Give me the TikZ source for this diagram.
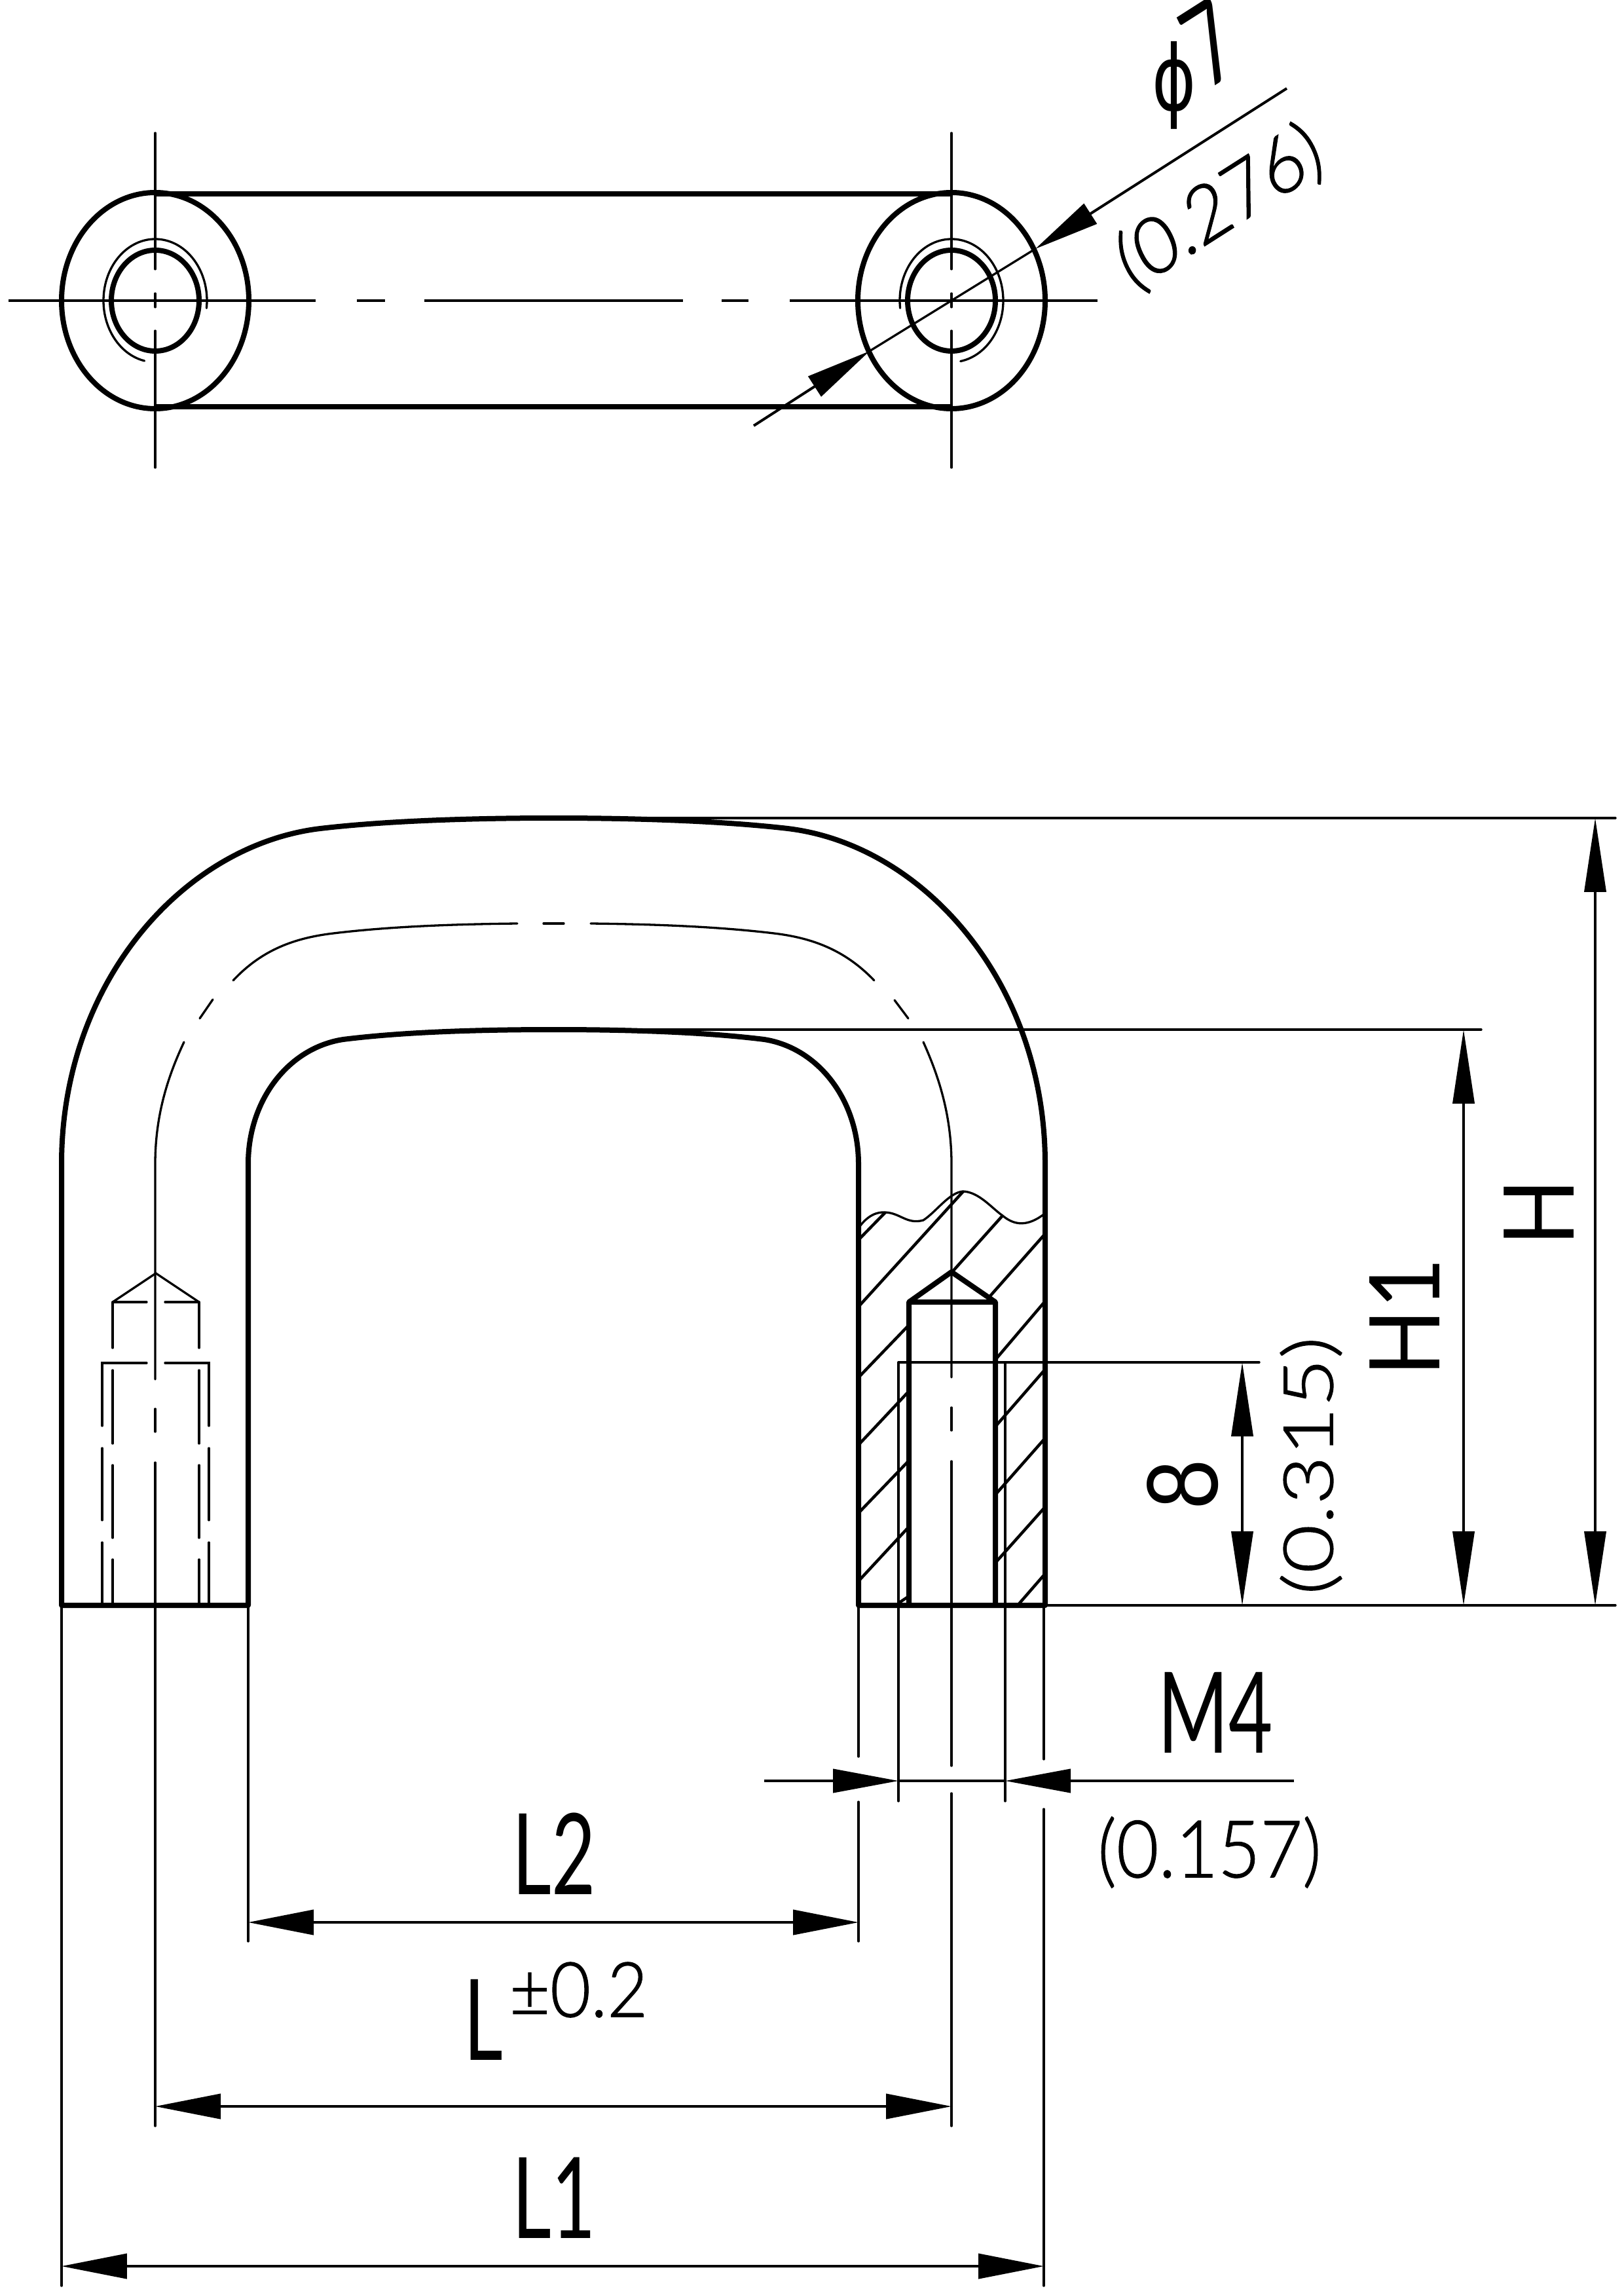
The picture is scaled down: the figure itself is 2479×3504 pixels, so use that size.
\documentclass[tikz,border=0pt]{standalone}
\usepackage{fontspec}
\usepackage{graphicx}
\usetikzlibrary{arrows.meta}
\newfontfamily\dimfont[FakeStretch=.78]{Lato}
\newfontfamily\notefont[FakeStretch=1.06,FakeBold=1.2]{Lato Light}
\newfontfamily\phifont[FakeStretch=.85]{DejaVu Sans}
\tikzset{
  body/.style={line width=.8pt,line join=round},
  fine/.style={line width=.33pt,line cap=round},
  hatchline/.style={line width=.45pt},
  centerline/.style={line width=.35pt},
  hdim/.style={line width=.42pt,{Triangle[length=10pt,width=3.8pt]}-{Triangle[length=10pt,width=3.8pt]}},
  vdim/.style={line width=.38pt,{Triangle[length=11.3pt,width=3.3pt]}-{Triangle[length=11.3pt,width=3.3pt]}},
  dimhead/.style={line width=.4pt,-{Triangle[length=10pt,width=3.6pt]}},
  dimlabel/.style={inner sep=0pt,font=\dimfont\fontsize{14.9}{16}\selectfont},
  dimnote/.style={inner sep=0pt,font=\notefont\fontsize{10.5}{11}\selectfont},
  % the whole drawing is stretched upright, and so are its texts
  flat/.style={cm={1,0,0,1.154,(0,0)},transform shape},
  upright/.style={cm={0,1.154,-1,0,(0,0)},transform shape},
  tilted/.style={cm={.875,.558,-.485,1.01,(0,0)},transform shape},
}
\begin{document}
\begin{tikzpicture}[x=.1pt,y=-.1pt]
  \useasboundingbox (0,0) rectangle (2479,3504);
  % view from above
  \draw[body] (237,459) ellipse [x radius=143,y radius=165];
  \draw[body] (1453,459) ellipse [x radius=143,y radius=165];
  \draw[body] (237,459) ellipse [x radius=67,y radius=77];
  \draw[body] (1453,459) ellipse [x radius=67,y radius=77];
  \draw[body] (237,296) -- (1453,296);
  \draw[body] (237,621) -- (1453,621);
  \draw[fine] (237,459) ++(7:79 and 94) arc [start angle=7,end angle=-258,x radius=79,y radius=94];
  \draw[fine] (1453,459) ++(173:79 and 94) arc [start angle=173,end angle=440,x radius=79,y radius=94];
  \foreach \x in {237,1453} {
    \draw[fine] (\x,203) -- (\x,411);
    \draw[fine] (\x,448) -- (\x,469);
    \draw[fine] (\x,505) -- (\x,714);
  }
  \draw[centerline] (13,459) -- (482,459);
  \draw[centerline] (545,459) -- (588,459);
  \draw[centerline] (648,459) -- (1043,459);
  \draw[centerline] (1102,459) -- (1143,459);
  \draw[centerline] (1206,459) -- (1676,459);
  % diameter
  \coordinate (dialow) at (1151,650);
  \coordinate (dialowtip) at (1328,536);
  \coordinate (diahigh) at (1965,135);
  \coordinate (diahightip) at (1581,380);
  \draw[fine] (dialowtip) -- (diahightip);
  \draw[dimhead] (dialow) -- (dialowtip);
  \draw[dimhead] (diahigh) -- (diahightip);
  \node[dimlabel,tilted] (diameter) at (1813,112) {{\phifont\fontsize{12}{12}\selectfont\rotatebox{-29}{ϕ}}\kern-1.7pt\raisebox{-1.8pt}{7}};
  \node[dimnote,tilted] (diamnote) at (1863,317) {(0.276)};
  % front view
  \draw[body] (94,2451) -- (94,1777) .. controls (94,1500) and (280,1290) .. (489,1265)
    .. controls (600,1252) and (740,1249) .. (846,1249)
    .. controls (950,1249) and (1090,1252) .. (1203,1265)
    .. controls (1410,1290) and (1596,1500) .. (1596,1777) -- (1596,2451) -- (1311,2451)
    -- (1311,1777) .. controls (1311,1680) and (1250,1600) .. (1167,1587)
    .. controls (1070,1575) and (950,1572) .. (846,1572)
    .. controls (740,1572) and (620,1575) .. (524,1587)
    .. controls (440,1600) and (379,1680) .. (379,1777) -- (379,2451) -- cycle;
  % middle line of the bar
  \draw[fine] (237,2106) -- (237,1777) .. controls (237,1700) and (258,1640) .. (281,1591);
  \draw[fine] (305,1555) -- (325,1526);
  \draw[fine] (356,1497) .. controls (400,1450) and (450,1432) .. (509,1425)
    .. controls (600,1414) and (700,1411) .. (790,1410);
  \draw[fine] (830,1410) -- (861,1410);
  \draw[fine] (902,1410) .. controls (990,1411) and (1090,1414) .. (1182,1425)
    .. controls (1240,1432) and (1290,1450) .. (1335,1497);
  \draw[fine] (1366,1527) -- (1387,1555);
  \draw[fine] (1410,1591) .. controls (1432,1640) and (1453,1700) .. (1453,1777) -- (1453,2103);
  \draw[fine] (237,2151) -- (237,2186);
  \draw[fine] (237,2233) -- (237,3246);
  \draw[fine] (1453,2149) -- (1453,2184);
  \draw[fine] (1453,2231) -- (1453,2696);
  \draw[fine] (1453,2738) -- (1453,3246);
  % hidden hole on the left
  \draw[fine] (172,1988) -- (238,1944) -- (304,1988);
  \draw[fine] (172,1988) -- (224,1988);
  \draw[fine] (252,1988) -- (304,1988);
  \foreach \x in {172,304} {
    \draw[fine] (\x,1988) -- (\x,2058);
    \draw[fine] (\x,2092) -- (\x,2204);
    \draw[fine] (\x,2237) -- (\x,2348);
    \draw[fine] (\x,2381) -- (\x,2451);
  }
  \draw[fine] (156,2177) -- (156,2081) -- (224,2081);
  \draw[fine] (252,2081) -- (319,2081) -- (319,2177);
  \foreach \x in {156,319} {
    \draw[fine] (\x,2211) -- (\x,2321);
    \draw[fine] (\x,2355) -- (\x,2451);
  }
  % section on the right
  \draw[fine] (1311,1875) .. controls (1325,1855) and (1340,1850) .. (1352,1851)
    .. controls (1375,1852) and (1385,1870) .. (1410,1863)
    .. controls (1430,1850) and (1450,1820) .. (1471,1819)
    .. controls (1495,1820) and (1515,1845) .. (1531,1856)
    .. controls (1550,1872) and (1570,1872) .. (1594,1854);
  \draw[body] (1388,2451) -- (1388,1988) -- (1453,1942) -- (1520,1988) -- (1520,2451);
  \draw[body] (1388,1988) -- (1520,1988);
  \foreach \a/\b/\c/\d in {1311/1893/1352/1851,1311/1995/1471/1819,1311/2103/1388/2023,
      1454/1942/1531/1856,1311/2206/1388/2124,1510/1981/1594/1886,1311/2310/1388/2230,
      1520/2076/1594/1989,1311/2414/1388/2331,1520/2178/1594/2093,1373/2447/1388/2437,
      1520/2282/1594/2198,1520/2386/1594/2303,1554/2451/1594/2405}
    \draw[hatchline] (\a,\b) -- (\c,\d);
  \draw[fine] (1372,2080) -- (1535,2080);
  \draw[fine] (1372,2080) -- (1372,2750);
  \draw[fine] (1535,2080) -- (1535,2750);
  % extension lines
  \draw[fine] (846,1249) -- (2467,1249);
  \draw[fine] (846,1572) -- (2262,1572);
  \draw[fine] (1535,2080) -- (1923,2080);
  \draw[fine] (1596,2451) -- (2467,2451);
  \draw[fine] (94,2451) -- (94,3490);
  \draw[fine] (379,2451) -- (379,2964);
  \draw[fine] (1311,2451) -- (1311,2682);
  \draw[fine] (1311,2751) -- (1311,2964);
  \draw[fine] (1594,2451) -- (1594,2686);
  \draw[fine] (1594,2762) -- (1594,3490);
  % dimensions
  \draw[vdim] (2436,1249) -- (2436,2451);
  \draw[vdim] (2235,1572) -- (2235,2451);
  \draw[vdim] (1897,2080) -- (1897,2451);
  \draw[hdim] (379,2935) -- (1311,2935);
  \draw[hdim] (237,3216) -- (1453,3216);
  \draw[hdim] (94,3460) -- (1594,3460);
  \draw[fine] (1372,2719) -- (1535,2719);
  \draw[dimhead] (1167,2719) -- (1372,2719);
  \draw[dimhead] (1976,2719) -- (1535,2719);
  \node[dimlabel,upright] (height) at (2350,1851) {H};
  \node[dimlabel,upright] (heightone) at (2145,2011) {H1};
  \node[dimlabel,upright] (depth) at (1806,2267) {8};
  \node[dimnote,upright] (depthnote) at (2002,2238) {(0.315)};
  \node[dimlabel,flat] (thread) at (1856,2615) {M4};
  \node[dimnote,flat] (threadnote) at (1847,2828) {(0.157)};
  \node[dimlabel,flat] (lengthtwo) at (846,2830) {L2};
  \node[dimlabel,flat] (length) at (738,3084) {L};
  \node[dimnote,flat,anchor=west,font=\notefont\fontsize{10.1}{11}\selectfont] (tolerance) at (776,3038) {±0.2};
  \node[dimlabel,flat] (lengthone) at (846,3356) {L1};
\end{tikzpicture}
\end{document}
